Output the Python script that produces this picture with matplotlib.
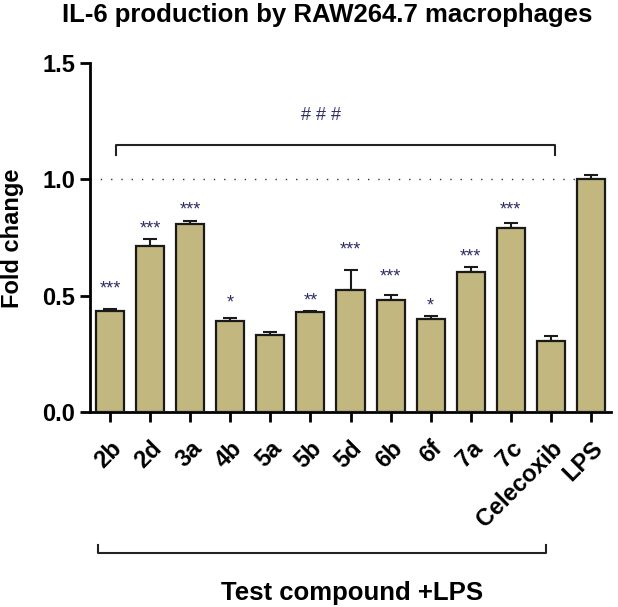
import numpy as np
import matplotlib.pyplot as plt

plt.rcParams['font.family'] = ['Liberation Sans', 'DejaVu Sans']
plt.rcParams['font.weight'] = 'bold'

# data
labels = ['2b', '2d', '3a', '4b', '5a', '5b', '5d', '6b', '6f', '7a', '7c', 'Celecoxib', 'LPS']
fold = [0.435, 0.714, 0.807, 0.390, 0.329, 0.428, 0.526, 0.480, 0.397, 0.600, 0.790, 0.306, 1.003]
err = [0.006, 0.029, 0.013, 0.014, 0.013, 0.005, 0.086, 0.021, 0.016, 0.022, 0.024, 0.022, 0.014]
stars = ['***', '***', '***', '*', '', '**', '***', '***', '*', '***', '***', '', '']
star_y = [0.54, 0.80, 0.88, 0.48, 0, 0.49, 0.71, 0.59, 0.465, 0.68, 0.88, 0, 0]

bar_col = '#c2b77e'
x = np.arange(len(labels))

fig = plt.figure(figsize=(6.18, 6.07), dpi=100)
ax = fig.add_axes([90/618, 1-411.7/607, (611-90)/618, (411.7-63.3)/607])

ax.bar(x, fold, width=0.7, color=bar_col, edgecolor='#1a1a1a', linewidth=1.6, zorder=3)
ax.errorbar(x, fold, yerr=[np.zeros(len(err)), err], fmt='none', ecolor='#1a1a1a',
            elinewidth=1.5, capsize=5, capthick=1.5, zorder=2)

for xi, s, sy in zip(x, stars, star_y):
    if s:
        ax.text(xi, sy - 0.012, s, ha='center', va='center', fontsize=13, fontweight='normal', color='#2e2e66')

ax.axhline(1.0, color='#333333', lw=1.0, ls=(0, (1, 6.4)), zorder=1)

# bracket over test compounds
ax.plot([0.14, 0.14, 11.11, 11.11], [1.105, 1.147, 1.147, 1.105], color='#222222', lw=1.5, clip_on=False)
ax.text(5.26, 1.277, '# # #', ha='center', va='center', fontsize=13, fontweight='normal', color='#2e2e66')

# bracket below axis
ax.plot([-0.29, -0.29, 10.87, 10.87], [-0.574, -0.608, -0.608, -0.574], color='#222222', lw=1.5, clip_on=False)

ax.set_xlim(-0.5, 12.5)
ax.set_ylim(0, 1.5)
ax.set_yticks([0.0, 0.5, 1.0, 1.5])
ax.set_yticklabels(['0.0', '0.5', '1.0', '1.5'])
ax.set_xticks(x)
ax.set_xticklabels(labels, rotation=45, ha='right', rotation_mode='anchor')
ax.tick_params(axis='both', width=2, length=7, labelsize=17)
ax.tick_params(axis='x', labelsize=17, pad=11)
for sp in ['top', 'right']:
    ax.spines[sp].set_visible(False)
for sp in ['left', 'bottom']:
    ax.spines[sp].set_linewidth(2)

fig.text(327/618, 1-21.7/607, 'IL-6 production by RAW264.7 macrophages', ha='center', va='baseline', fontsize=18.5)
fig.text(13/618, 1-238/607, 'Fold change', ha='center', va='center', rotation=90, fontsize=17)
fig.text(352/618, 1-600/607, 'Test compound +LPS', ha='center', va='baseline', fontsize=18.5)

fig.savefig('out.png', dpi=100)
